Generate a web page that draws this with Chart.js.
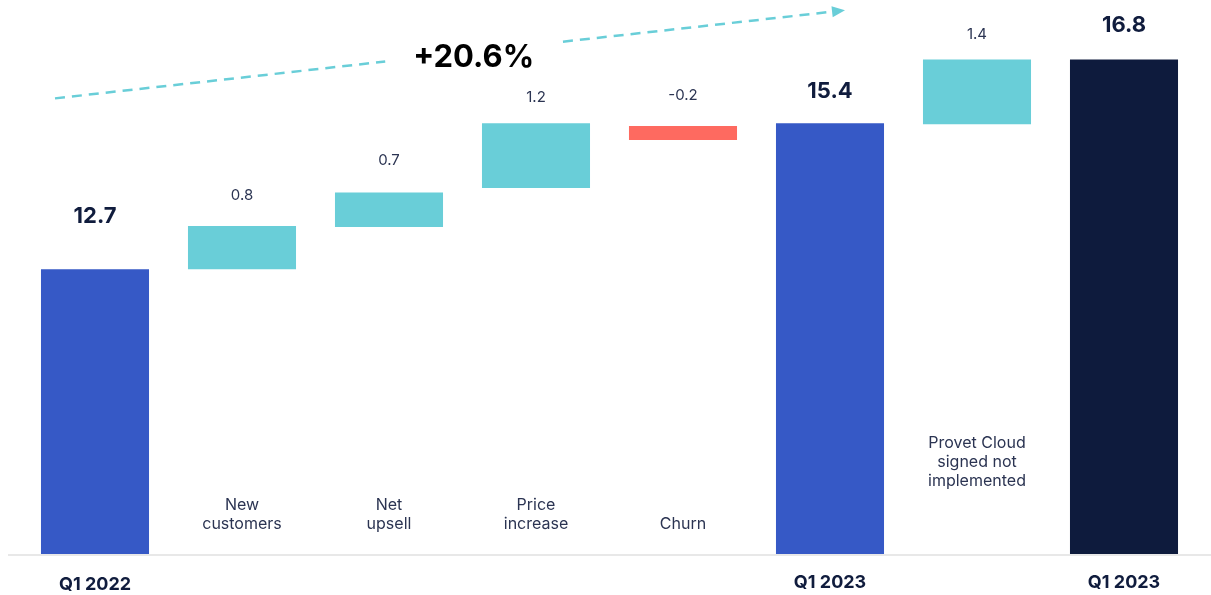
<!DOCTYPE html>
<html>
<head>
<meta charset="utf-8">
<script src="https://cdn.jsdelivr.net/npm/chart.js@4"></script>
<style>
  html, body { margin: 0; padding: 0; background: #fff; }
  #wrap { width: 1211px; height: 595px; }
</style>
</head>
<body>
<div id="wrap"><canvas id="chart" width="1211" height="595"></canvas></div>
<script>
// ===== Data =====
const categories = [['Q1 2022'], ['New', 'customers'], ['Net', 'upsell'], ['Price', 'increase'], ['Churn'], ['Q1 2023'], ['Provet Cloud', 'signed not', 'implemented'], ['Q1 2023']];
const isTotal = [true, false, false, false, false, true, false, true];
const barLow = [0, 12.70, 13.48, 14.20, 15.09, 0, 15.38, 0];
const barHigh = [12.70, 13.50, 14.12, 15.40, 15.35, 15.40, 16.58, 16.58];
const valueLabels = ['12.7', '0.8', '0.7', '1.2', '-0.2', '15.4', '1.4', '16.8'];
const growthLabel = '+20.6%';
const axisMin = 7.43;
const axisMax = 17.68;

const COLORS = { total: '#3659c6', up: '#69ced8', down: '#fe6a60', final: '#0e1b3d', text: '#101c3d', sub: '#2b3452' };

const barColors = barHigh.map((h, i) => {
    if (i === barHigh.length - 1) return COLORS.final;
    if (isTotal[i]) return COLORS.total;
    return valueLabels[i].startsWith('-') ? COLORS.down : COLORS.up;
});

// labels + arrow drawn on top of the bars
const annotate = {
    id: 'annotate',
    afterDatasetsDraw(chart, args, opts) {
        const { ctx, scales: { x, y }, chartArea } = chart;
        ctx.save();
        // baseline
        ctx.strokeStyle = '#e8e8e8';
        ctx.lineWidth = 2;
        ctx.beginPath();
        ctx.moveTo(8, chartArea.bottom + 1);
        ctx.lineTo(chart.width, chartArea.bottom + 1);
        ctx.stroke();

        ctx.textAlign = 'center';
        ctx.textBaseline = 'middle';
        barHigh.forEach((h, i) => {
            const cx = x.getPixelForValue(i);
            const top = y.getPixelForValue(Math.max(h, barLow[i]));
            // value label
            if (isTotal[i]) {
                ctx.font = 'bold 22px Inter';
                ctx.fillStyle = COLORS.text;
            } else {
                ctx.font = '15px Inter';
                ctx.fillStyle = COLORS.sub;
            }
            ctx.fillText(valueLabels[i], cx, top - opts.lift[i]);
            // category label
            const lines = categories[i];
            if (isTotal[i]) {
                ctx.font = 'bold 18px Inter';
                ctx.fillStyle = COLORS.text;
                ctx.fillText(lines[0], cx, i === 0 ? 585 : 583);
            } else {
                ctx.font = '16px Inter';
                ctx.fillStyle = COLORS.sub;
                const last = chartArea.bottom - 30 - (opts.catLift[i] || 0);
                lines.forEach((t, k) => ctx.fillText(t, cx, last - (lines.length - 1 - k) * 19));
            }
        });

        // growth arrow
        const x0 = x.getPixelForValue(0) - 40, y0 = y.getPixelForValue(15.86);
        const x1 = x.getPixelForValue(5) + 15, y1 = y.getPixelForValue(17.49);
        const pt = t => [x0 + (x1 - x0) * t, y0 + (y1 - y0) * t];
        const g0 = 0.418, g1 = 0.643;
        ctx.strokeStyle = COLORS.up;
        ctx.fillStyle = COLORS.up;
        ctx.lineWidth = 2.5;
        ctx.setLineDash([10, 7]);
        ctx.beginPath();
        ctx.moveTo(x0, y0); ctx.lineTo(...pt(g0));
        ctx.moveTo(...pt(g1)); ctx.lineTo(...pt(0.985));
        ctx.stroke();
        ctx.setLineDash([]);
        const ang = Math.atan2(y1 - y0, x1 - x0);
        ctx.beginPath();
        ctx.moveTo(x1, y1);
        ctx.lineTo(x1 - 13 * Math.cos(ang) + 5.5 * Math.sin(ang), y1 - 13 * Math.sin(ang) - 5.5 * Math.cos(ang));
        ctx.lineTo(x1 - 13 * Math.cos(ang) - 5.5 * Math.sin(ang), y1 - 13 * Math.sin(ang) + 5.5 * Math.cos(ang));
        ctx.closePath();
        ctx.fill();
        const [tx, ty] = pt(0.53);
        ctx.font = 'bold 31px Inter';
        ctx.fillStyle = '#000';
        ctx.fillText(growthLabel, tx, ty + 6);
        ctx.restore();
    }
};

new Chart(document.getElementById('chart'), {
    type: 'bar',
    data: {
        labels: categories,
        datasets: [{
            data: barLow.map((l, i) => [l, barHigh[i]]),
            backgroundColor: barColors,
            borderWidth: 0,
            borderSkipped: false,
            categoryPercentage: 1,
            barPercentage: 0.735
        }]
    },
    options: {
        responsive: false,
        animation: false,
        layout: { padding: { left: 21.5, right: 13.5, top: 0, bottom: 41 } },
        scales: {
            x: { display: false },
            y: { display: false, min: axisMin, max: axisMax }
        },
        plugins: {
            legend: { display: false },
            tooltip: { enabled: false },
            annotate: {
                lift: [53, 30, 32, 26, 30, 32, 25, 34],
                catLift: { 6: 43 }
            }
        }
    },
    plugins: [annotate]
});
</script>
</body>
</html>
